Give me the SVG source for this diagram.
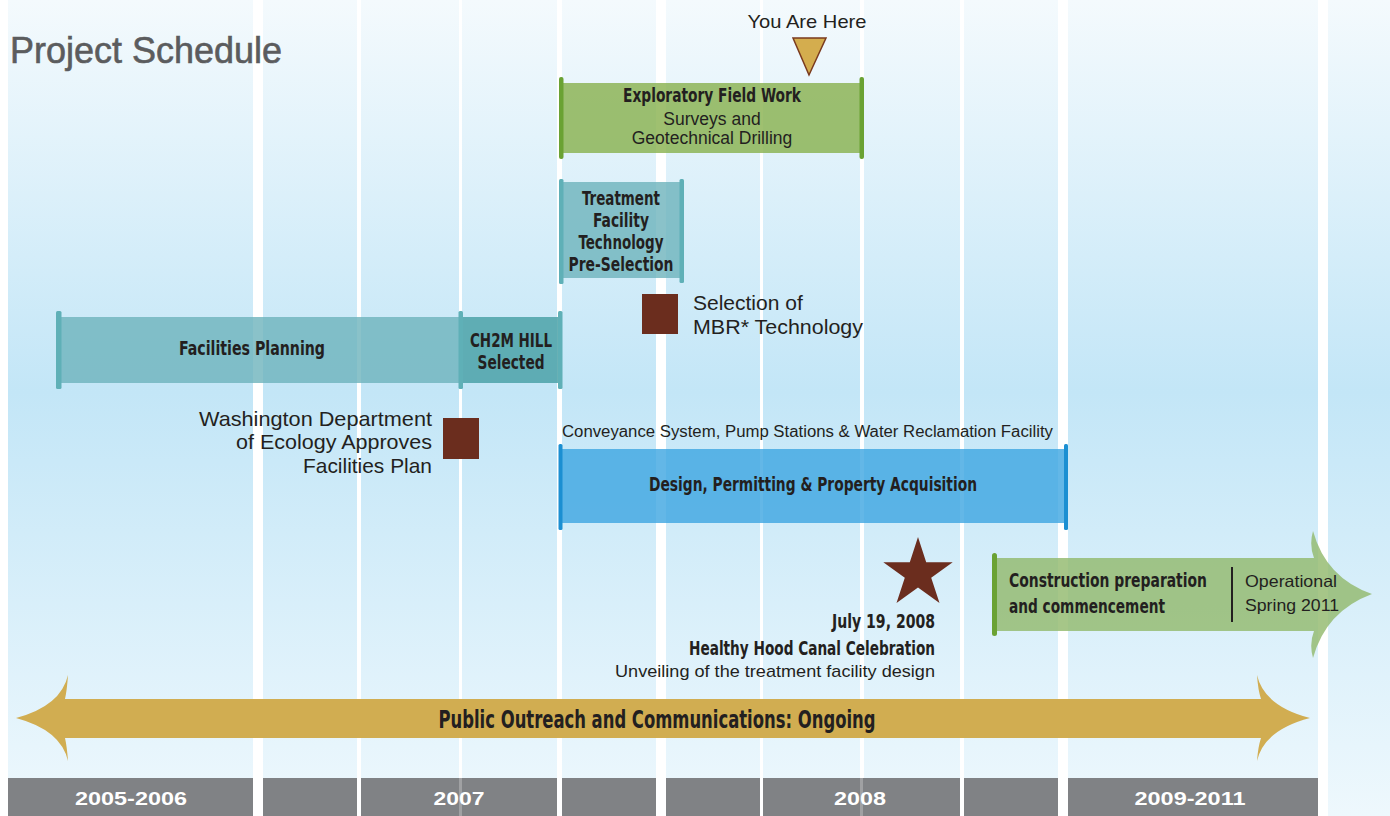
<svg xmlns="http://www.w3.org/2000/svg" width="1390" height="816" viewBox="0 0 1390 816">
<defs>
<linearGradient id="bg" x1="0" y1="0" x2="0" y2="1">
<stop offset="0" stop-color="#f4fafd"/>
<stop offset="0.48" stop-color="#c3e6f7"/>
<stop offset="1" stop-color="#eef8fd"/>
</linearGradient>
<style>
.cond{font-family:"Liberation Sans Narrow","DejaVu Sans Condensed","DejaVu Sans",sans-serif;font-stretch:condensed;font-weight:bold;fill:#231f20;}
.reg{font-family:"Liberation Sans",Arial,sans-serif;fill:#231f20;}
.yr{font-family:"Liberation Sans",Arial,sans-serif;font-weight:bold;fill:#ffffff;font-size:19px;}
.stripe{fill:#ffffff;}
.green{fill:#87b04c;fill-opacity:0.8;}
.greencap{fill:#6aa233;}
.teal{fill:#6db3bc;fill-opacity:0.8;}
.tealdark{fill:#449ea3;fill-opacity:0.8;}
.tealcap{fill:#5fb0b7;}
.blue{fill:#3ca5e1;fill-opacity:0.8;}
.bluecap{fill:#1b8fd2;}
.mark{fill:#6b2d1e;}
</style>
</defs>

<g id="background">
<rect x="0" y="0" width="1390" height="816" fill="url(#bg)"/>
<rect class="stripe" x="0" y="0" width="8" height="816"/>
<rect class="stripe" x="253" y="0" width="10" height="816"/>
<rect class="stripe" x="357" y="0" width="4" height="816"/>
<rect class="stripe" x="459" y="0" width="3" height="816"/>
<rect class="stripe" x="557" y="0" width="5" height="816"/>
<rect class="stripe" x="656" y="0" width="10" height="816"/>
<rect class="stripe" x="760" y="0" width="3" height="816"/>
<rect class="stripe" x="860" y="0" width="4" height="816"/>
<rect class="stripe" x="960" y="0" width="4" height="816"/>
<rect class="stripe" x="1058" y="0" width="10" height="816"/>
<rect class="stripe" x="1318" y="0" width="10" height="816"/>
</g>

<g id="title">
<text x="10" y="63" font-family="Liberation Sans,Arial,sans-serif" font-size="36" fill="#5b5c5e" stroke="#5b5c5e" stroke-width="0.6" textLength="272" lengthAdjust="spacingAndGlyphs">Project Schedule</text>
</g>

<g id="you-are-here">
<text class="reg" x="807" y="28" font-size="19" text-anchor="middle" textLength="119" lengthAdjust="spacingAndGlyphs">You Are Here</text>
<polygon points="793,38 826,38 809,75" fill="#d4ad4e" stroke="#7a3a1e" stroke-width="1.5" stroke-linejoin="miter"/>
</g>

<g id="exploratory-field-work">
<rect class="green" x="561" y="83" width="301" height="70"/>
<rect class="greencap" x="559" y="77" width="4.5" height="82" rx="2"/>
<rect class="greencap" x="859.5" y="77" width="4.5" height="82" rx="2"/>
<text class="cond" x="712" y="102" font-size="19" text-anchor="middle" textLength="178" lengthAdjust="spacingAndGlyphs">Exploratory Field Work</text>
<text class="reg" x="712" y="125" font-size="17.5" text-anchor="middle">Surveys and</text>
<text class="reg" x="712" y="144" font-size="17.5" text-anchor="middle">Geotechnical Drilling</text>
</g>

<g id="treatment-preselection">
<rect class="teal" x="561" y="182" width="121" height="96"/>
<rect class="tealcap" x="559" y="179" width="4.5" height="105" rx="1.5"/>
<rect class="tealcap" x="679.5" y="179" width="4.5" height="104" rx="1.5"/>
<text class="cond" x="621" y="205" font-size="19" text-anchor="middle" textLength="78" lengthAdjust="spacingAndGlyphs">Treatment</text>
<text class="cond" x="621" y="227" font-size="19" text-anchor="middle" textLength="56" lengthAdjust="spacingAndGlyphs">Facility</text>
<text class="cond" x="621" y="249" font-size="19" text-anchor="middle" textLength="85" lengthAdjust="spacingAndGlyphs">Technology</text>
<text class="cond" x="621" y="271" font-size="19" text-anchor="middle" textLength="105" lengthAdjust="spacingAndGlyphs">Pre-Selection</text>
</g>

<g id="mbr-selection">
<rect class="mark" x="642" y="294" width="36" height="40"/>
<text class="reg" x="693" y="310" font-size="21">Selection of</text>
<text class="reg" x="693" y="334" font-size="21" textLength="170" lengthAdjust="spacingAndGlyphs">MBR* Technology</text>
</g>

<g id="facilities-planning">
<rect class="teal" x="58" y="317" width="402" height="66"/>
<rect class="tealcap" x="56" y="311" width="5.5" height="78" rx="1.5"/>
<text class="cond" x="252" y="355" font-size="20" text-anchor="middle" textLength="146" lengthAdjust="spacingAndGlyphs">Facilities Planning</text>
</g>

<g id="ch2m-hill-selected">
<rect class="tealdark" x="461" y="317" width="99" height="66"/>
<rect class="tealcap" x="458.5" y="311" width="4.5" height="78" rx="1.5"/>
<rect class="tealcap" x="558" y="311" width="4.5" height="78" rx="1.5"/>
<text class="cond" x="511" y="347" font-size="20" text-anchor="middle" textLength="82" lengthAdjust="spacingAndGlyphs">CH2M HILL</text>
<text class="cond" x="511" y="369" font-size="20" text-anchor="middle" textLength="67" lengthAdjust="spacingAndGlyphs">Selected</text>
</g>

<g id="ecology-approval">
<rect class="mark" x="443" y="418" width="36" height="41"/>
<text class="reg" x="432" y="426" font-size="21" text-anchor="end" textLength="233" lengthAdjust="spacingAndGlyphs">Washington Department</text>
<text class="reg" x="432" y="449" font-size="21" text-anchor="end" textLength="196" lengthAdjust="spacingAndGlyphs">of Ecology Approves</text>
<text class="reg" x="432" y="473" font-size="21" text-anchor="end" textLength="129" lengthAdjust="spacingAndGlyphs">Facilities Plan</text>
</g>

<g id="design-permitting">
<text class="reg" x="562" y="437" font-size="16" textLength="491" lengthAdjust="spacingAndGlyphs">Conveyance System, Pump Stations &amp; Water Reclamation Facility</text>
<rect class="blue" x="561" y="449" width="505" height="74"/>
<rect class="bluecap" x="558.5" y="444" width="4" height="86" rx="1.5"/>
<rect class="bluecap" x="1064" y="444" width="4" height="86" rx="1.5"/>
<text class="cond" x="813" y="491" font-size="20" text-anchor="middle" textLength="328" lengthAdjust="spacingAndGlyphs">Design, Permitting &amp; Property Acquisition</text>
</g>

<g id="celebration">
<polygon class="mark" points="918,537 926.2,562.2 952.7,562.2 931.2,577.8 939.5,603 918,587.4 896.5,603 904.8,577.8 883.3,562.2 909.8,562.2"/>
<text class="cond" x="935" y="628" font-size="20" text-anchor="end" textLength="103" lengthAdjust="spacingAndGlyphs">July 19, 2008</text>
<text class="cond" x="935" y="655" font-size="20" text-anchor="end" textLength="246" lengthAdjust="spacingAndGlyphs">Healthy Hood Canal Celebration</text>
<text class="reg" x="935" y="677" font-size="17" text-anchor="end" textLength="320" lengthAdjust="spacingAndGlyphs">Unveiling of the treatment facility design</text>
</g>

<g id="construction">
<path d="M993,558 H1314 Q1309,545 1313,531 Q1326,578 1372,594 Q1326,611 1313,658 Q1309,644 1314,631 H993 Z" fill="#92b96e" fill-opacity="0.82"/>
<rect class="greencap" x="992" y="553" width="5" height="83" rx="2.5"/>
<line x1="1232" y1="567" x2="1232" y2="622" stroke="#231f20" stroke-width="2"/>
<text class="cond" x="1009" y="587" font-size="20" textLength="198" lengthAdjust="spacingAndGlyphs">Construction preparation</text>
<text class="cond" x="1009" y="613" font-size="20" textLength="156" lengthAdjust="spacingAndGlyphs">and commencement</text>
<text class="reg" x="1245" y="587" font-size="16.5" textLength="92" lengthAdjust="spacingAndGlyphs">Operational</text>
<text class="reg" x="1245" y="611" font-size="16.5" textLength="94" lengthAdjust="spacingAndGlyphs">Spring 2011</text>
</g>

<g id="public-outreach">
<path d="M65,699 H1261 Q1258,690 1257,675 Q1264,706 1310,718 Q1264,730 1257,761 Q1258,747 1261,738 H65 Q67,747 68,761 Q61,730 16,718 Q61,706 68,675 Q67,690 65,699 Z" fill="#d1ad51"/>
<text class="cond" x="657" y="728" font-size="25" text-anchor="middle" textLength="437" lengthAdjust="spacingAndGlyphs">Public Outreach and Communications: Ongoing</text>
</g>

<g id="timeline-axis">
<rect x="8" y="778" width="1310" height="38" fill="#808285"/>
<rect class="stripe" x="253" y="778" width="10" height="38"/>
<rect class="stripe" x="357" y="778" width="4" height="38"/>
<rect class="stripe" x="557" y="778" width="5" height="38"/>
<rect class="stripe" x="656" y="778" width="10" height="38"/>
<rect class="stripe" x="760" y="778" width="3" height="38"/>
<rect class="stripe" x="960" y="778" width="4" height="38"/>
<rect class="stripe" x="1058" y="778" width="10" height="38"/>
<text class="yr" x="131" y="805" text-anchor="middle" textLength="112" lengthAdjust="spacingAndGlyphs">2005-2006</text>
<text class="yr" x="459" y="805" text-anchor="middle" textLength="51" lengthAdjust="spacingAndGlyphs">2007</text>
<text class="yr" x="860" y="805" text-anchor="middle" textLength="52" lengthAdjust="spacingAndGlyphs">2008</text>
<text class="yr" x="1190" y="805" text-anchor="middle" textLength="111" lengthAdjust="spacingAndGlyphs">2009-2011</text>
<rect x="459" y="778" width="3" height="38" fill="#ffffff" fill-opacity="0.25"/>
<rect x="860" y="778" width="3" height="38" fill="#ffffff" fill-opacity="0.25"/>
</g>

<g id="connectors"/>
</svg>
